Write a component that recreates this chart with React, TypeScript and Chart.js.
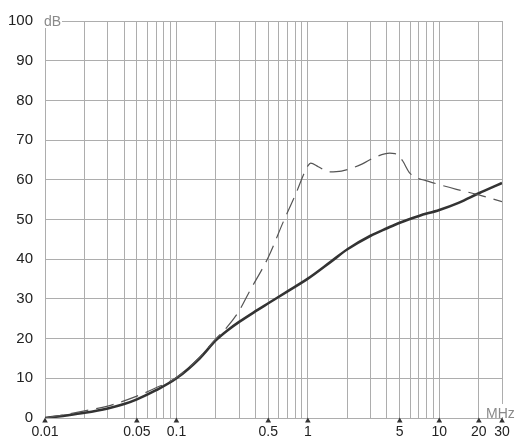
import React, { useEffect, useRef } from "react";
import { Chart, registerables } from "chart.js";

Chart.register(...registerables);

// Frequencies (MHz) and attenuation (dB)
const solidFreq = [0.01, 0.015, 0.02, 0.03, 0.04, 0.05, 0.07, 0.1, 0.15, 0.2, 0.25, 0.3, 0.4, 0.5, 0.7, 1, 1.5, 2, 3, 4, 5, 7, 10, 14, 20, 30];
const solidDb = [0, 0.7, 1.3, 2.4, 3.5, 4.7, 7.0, 10, 15.0, 19.6, 22.3, 24.2, 26.9, 28.9, 31.9, 35.1, 39.4, 42.5, 45.9, 47.8, 49.2, 50.9, 52.4, 54.2, 56.6, 59.2];

const dashFreq = [0.01, 0.015, 0.02, 0.03, 0.05, 0.07, 0.1, 0.15, 0.2, 0.24, 0.3, 0.36, 0.5, 0.65, 0.82, 0.93, 1.0, 1.05, 1.2, 1.45, 1.8, 2.6, 3.2, 4.2, 4.6, 5.0, 5.3, 5.9, 6.6, 7.9, 9.5, 13.5, 20, 30];
const dashDb = [0, 1.0, 1.8, 3.0, 5.5, 7.6, 10.2, 15.3, 20, 22.7, 27, 31.9, 40.5, 49.4, 56.9, 61.4, 63.5, 64.2, 63.3, 62.0, 62.2, 64.0, 65.6, 66.7, 66.6, 65.8, 64.6, 61.9, 60.6, 59.8, 59.0, 57.6, 56.2, 54.5];

const gridFreq = [
  0.01, 0.02, 0.03, 0.04, 0.05, 0.06, 0.07, 0.08, 0.09,
  0.1, 0.2, 0.3, 0.4, 0.5, 0.6, 0.7, 0.8, 0.9,
  1, 2, 3, 4, 5, 6, 7, 8, 9,
  10, 20, 30,
];
const labelFreq = [0.01, 0.05, 0.1, 0.5, 1, 5, 10, 20, 30];
const labelText = ["0.01", "0.05", "0.1", "0.5", "1", "5", "10", "20", "30"];

const GRID = "#adadad";
const FONT = "'Liberation Sans', Arial, sans-serif";

function findLabel(v: number): string {
  for (let i = 0; i < labelFreq.length; i++) {
    if (Math.abs(labelFreq[i] - v) / labelFreq[i] < 1e-6) return labelText[i];
  }
  return "";
}

const decorPlugin = {
  id: "decor",
  afterDraw(chart: any) {
    const ctx = chart.ctx;
    const x = chart.scales.x;
    const area = chart.chartArea;
    ctx.save();
    // dB unit label
    ctx.font = `14px ${FONT}`;
    ctx.textBaseline = "middle";
    ctx.textAlign = "left";
    ctx.fillStyle = "#ffffff";
    ctx.fillRect(area.left - 2, area.top - 8, 19, 15);
    ctx.fillStyle = "#8a8a8a";
    ctx.fillText("dB", area.left - 1, area.top + 1);
    // MHz unit label
    ctx.fillStyle = "#ffffff";
    ctx.fillRect(area.right - 17, area.bottom - 14, 40, 13);
    ctx.fillStyle = "#8a8a8a";
    ctx.textBaseline = "alphabetic";
    ctx.fillText("MHz", area.right - 16, area.bottom);
    // triangle tick markers
    ctx.fillStyle = "#333333";
    for (const v of labelFreq) {
      const px = x.getPixelForValue(v);
      ctx.beginPath();
      ctx.moveTo(px - 2.8, area.bottom + 4.5);
      ctx.lineTo(px + 2.8, area.bottom + 4.5);
      ctx.lineTo(px, area.bottom - 0.5);
      ctx.closePath();
      ctx.fill();
    }
    ctx.restore();
  },
};

export default function App() {
  const ref = useRef<HTMLCanvasElement | null>(null);
  useEffect(() => {
    if (!ref.current) return;
    const chart = new Chart(ref.current, {
      type: "line",
      data: {
        datasets: [
          {
            data: dashFreq.map((f, i) => ({ x: f, y: dashDb[i] })),
            borderColor: "#555555",
            borderWidth: 1.2,
            borderDash: [18, 8],
            pointRadius: 0,
            fill: false,
            cubicInterpolationMode: "monotone",
          },
          {
            data: solidFreq.map((f, i) => ({ x: f, y: solidDb[i] })),
            borderColor: "#333333",
            borderWidth: 2.6,
            pointRadius: 0,
            fill: false,
            cubicInterpolationMode: "monotone",
          },
        ],
      },
      options: {
        responsive: false,
        animation: false,
        events: [],
        layout: { padding: { top: 15.5, right: 14, left: 0, bottom: 0 } },
        plugins: { legend: { display: false }, tooltip: { enabled: false } },
        scales: {
          x: {
            type: "logarithmic",
            min: 0.01,
            max: 30,
            afterBuildTicks: (scale: any) => {
              scale.ticks = gridFreq.map((v) => ({ value: v }));
            },
            afterFit: (scale: any) => {
              scale.height = 25;
            },
            grid: { color: GRID, drawTicks: false, lineWidth: 1 },
            border: { color: GRID, width: 1 },
            ticks: {
              autoSkip: false,
              maxRotation: 0,
              padding: 6,
              color: "#222222",
              font: { family: FONT, size: 14 },
              callback: (v: any) => findLabel(Number(v)),
            },
          },
          y: {
            min: 0,
            max: 100,
            afterFit: (scale: any) => {
              scale.width = 45;
            },
            grid: { color: GRID, drawTicks: false, lineWidth: 1 },
            border: { color: GRID, width: 1 },
            ticks: {
              stepSize: 10,
              padding: 12,
              color: "#222222",
              font: { family: FONT, size: 15 },
            },
          },
        },
      },
      plugins: [decorPlugin],
    } as any);
    return () => chart.destroy();
  }, []);
  return (
    <div style={{ position: "absolute", left: 0, top: 0, width: 516, height: 443, background: "#fff" }}>
      <canvas ref={ref} width={516} height={443} style={{ width: 516, height: 443, display: "block" }} />
    </div>
  );
}
